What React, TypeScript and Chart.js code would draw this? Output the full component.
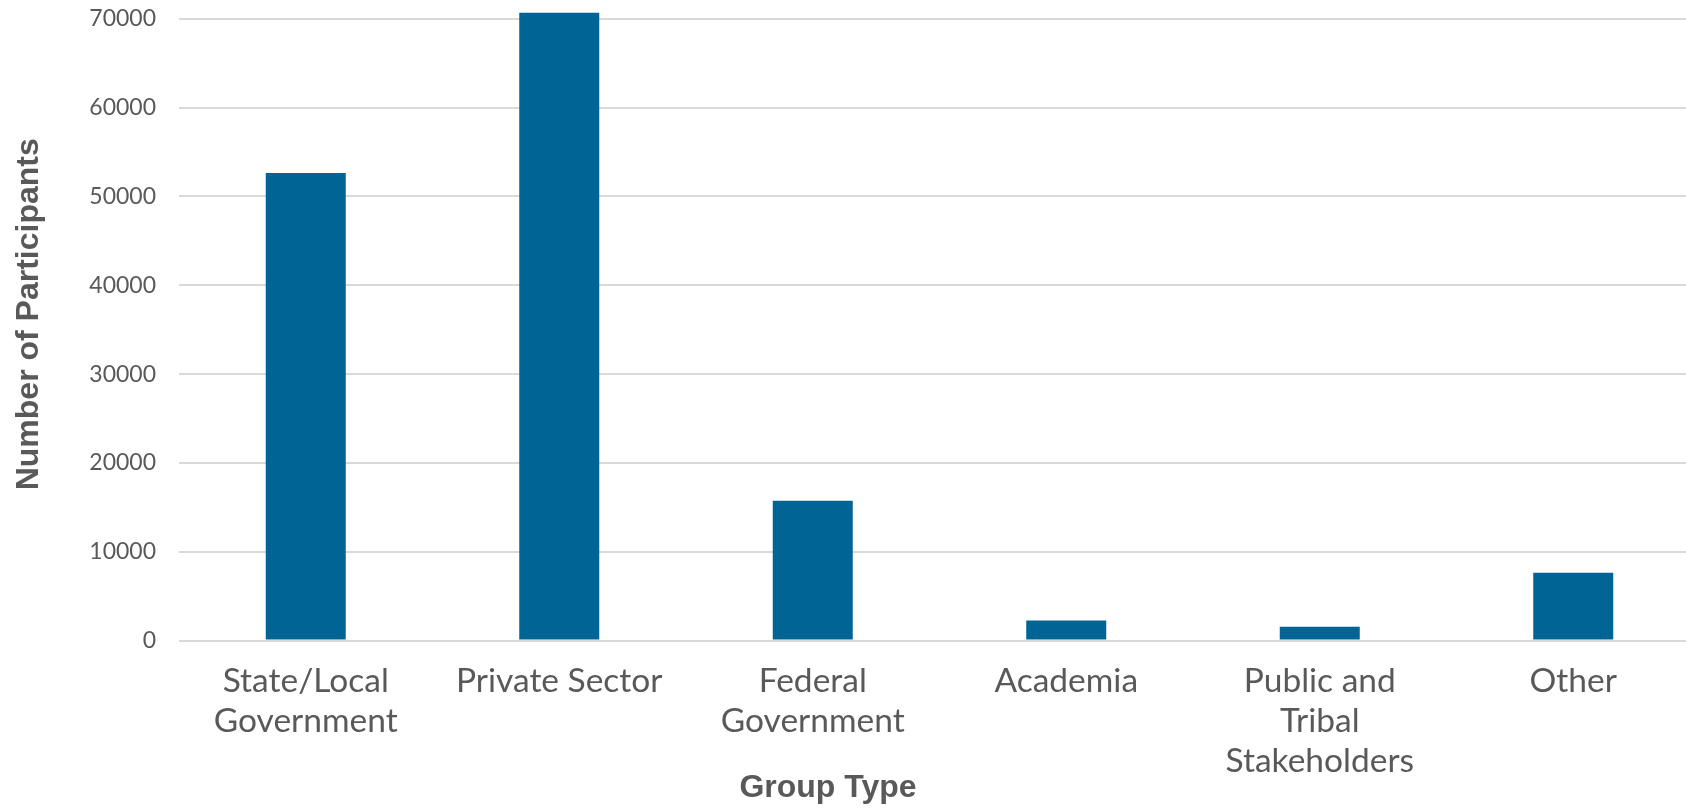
import React, { useEffect, useRef } from "react";
import { Chart, registerables } from "chart.js";

Chart.register(...registerables);

const categories: string[][] = [
  ["State/Local", "Government"],
  ["Private Sector"],
  ["Federal", "Government"],
  ["Academia"],
  ["Public and", "Tribal", "Stakeholders"],
  ["Other"],
];
const participants: number[] = [52650, 70680, 15730, 2250, 1550, 7620];
const yTickValues: number[] = [0, 10000, 20000, 30000, 40000, 50000, 60000, 70000];
const xTitle = "Group Type";
const yTitle = "Number of Participants";

const GREY = "#595959";
const BAR = "#006595";
const GRID = "#d9d9d9";

const axisTitles = {
  id: "axisTitles",
  afterDraw(chart: any) {
    const ctx = chart.ctx;
    const area = chart.chartArea;
    ctx.save();
    ctx.fillStyle = GREY;
    ctx.font = 'bold 32px "Liberation Sans", Arial, sans-serif';
    ctx.textAlign = "center";
    ctx.textBaseline = "middle";
    ctx.fillText(xTitle, 828, 788);
    ctx.translate(29, (area.top + area.bottom) / 2 - 11);
    ctx.rotate(-Math.PI / 2);
    ctx.fillText(yTitle, 0, 0);
    ctx.restore();
  },
};

export default function App() {
  const ref = useRef<HTMLCanvasElement | null>(null);

  useEffect(() => {
    if (!ref.current) return;
    const chart = new Chart(ref.current, {
      type: "bar",
      data: {
        labels: categories,
        datasets: [
          {
            label: yTitle,
            data: participants,
            backgroundColor: BAR,
            borderWidth: 0,
            barPercentage: 0.3156,
            categoryPercentage: 1,
          },
        ],
      },
      options: {
        animation: false,
        responsive: false,
        maintainAspectRatio: false,
        layout: { padding: { top: 10, right: 0, bottom: 0, left: 0 } },
        plugins: {
          legend: { display: false },
          tooltip: { enabled: false },
          title: { display: false },
        },
        scales: {
          x: {
            grid: { display: false, drawTicks: false },
            border: { display: false },
            ticks: {
              color: GREY,
              font: { family: "Lato, 'Noto Sans', sans-serif", size: 33.5, lineHeight: 1.19 },
              padding: 21,
              maxRotation: 0,
              minRotation: 0,
              autoSkip: false,
            },
            afterFit: (scale: any) => {
              scale.height = 168.5;
              scale.paddingLeft = 0;
              scale.paddingRight = 0;
            },
          },
          y: {
            min: 0,
            max: 71000,
            afterBuildTicks: (scale: any) => {
              scale.ticks = yTickValues.map((v) => ({ value: v }));
            },
            grid: { color: GRID, lineWidth: 2, drawTicks: false },
            border: { display: false },
            ticks: {
              color: GREY,
              font: { family: "Lato, 'Noto Sans', sans-serif", size: 23 },
              padding: 23,
              callback: (v: any) => String(v),
            },
            afterFit: (scale: any) => {
              scale.width = 179;
              scale.paddingTop = 0;
              scale.paddingBottom = 0;
            },
          },
        },
      },
      plugins: [axisTitles],
    });
    return () => chart.destroy();
  }, []);

  return (
    <div
      style={{
        position: "fixed",
        left: 0,
        top: 0,
        width: 1686,
        height: 809,
        overflow: "hidden",
        background: "#ffffff",
      }}
    >
      <canvas ref={ref} width={1700} height={809} style={{ width: 1700, height: 809, display: "block" }} />
    </div>
  );
}
